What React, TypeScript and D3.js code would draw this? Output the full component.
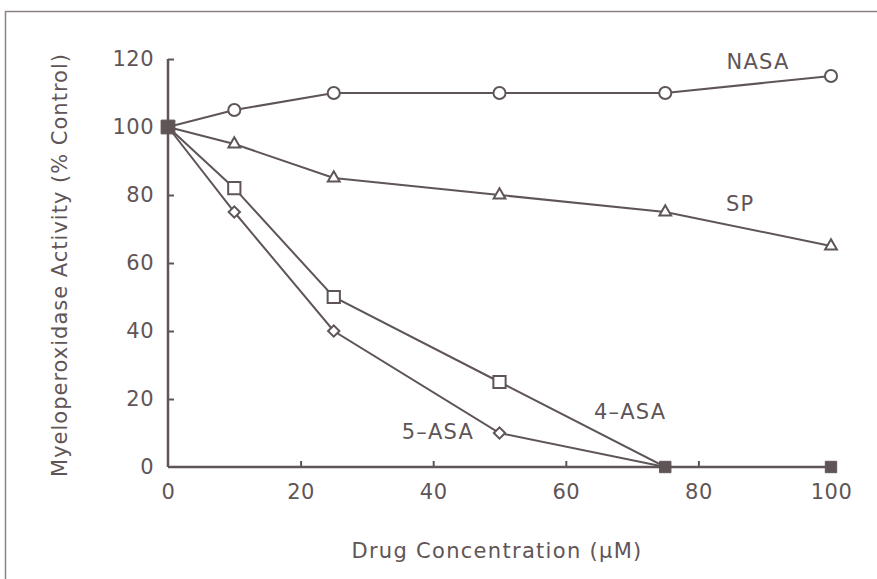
import React, { useEffect, useRef } from 'react';
import * as d3 from 'd3';

const concentrations = [0, 10, 25, 50, 75, 100];
const nasa = [100, 105, 110, 110, 110, 115];
const sp = [100, 95, 85, 80, 75, 65];
const asa4 = [100, 82, 50, 25, 0, 0];
const asa5 = [100, 75, 40, 10, 0, 0];
const xTicks = [0, 20, 40, 60, 80, 100];
const yTicks = [0, 20, 40, 60, 80, 100, 120];

const W = 877;
const H = 579;
const ink = '#5f5557';
const font = '"DejaVu Sans", sans-serif';

const Chart: React.FC = () => {
  const svgRef = useRef<SVGSVGElement | null>(null);

  useEffect(() => {
    if (!svgRef.current) return;
    const svg = d3.select(svgRef.current);
    svg.selectAll('*').remove();

    const x = d3.scaleLinear().domain([0, 100]).range([168, 831]);
    const y = d3.scaleLinear().domain([0, 120]).range([467, 59]);

    // outer frame
    svg.append('path')
      .attr('d', `M5.5,${H} L5.5,11.5 L${W},11.5`)
      .attr('fill', 'none')
      .attr('stroke', '#8a8285')
      .attr('stroke-width', 1.5);

    const g = svg.append('g');

    // axes
    const xAxis = d3.axisBottom(x).tickValues(xTicks).tickSize(-6).tickPadding(17).tickFormat(d3.format('d'));
    const yAxis = d3.axisLeft(y).tickValues(yTicks).tickSize(-6).tickPadding(14).tickFormat(d3.format('d'));

    const gx = g.append('g').attr('transform', `translate(0,${y(0)})`).call(xAxis);
    const gy = g.append('g').attr('transform', `translate(${x(0)},0)`).call(yAxis);
    [gx, gy].forEach((a) => {
      a.select('.domain').attr('stroke', ink).attr('stroke-width', 2.5);
      a.selectAll('.tick line').attr('stroke', ink).attr('stroke-width', 2);
      a.selectAll('.tick text')
        .attr('fill', ink)
        .attr('font-family', font)
        .attr('font-size', 21)
        .attr('letter-spacing', 0.5);
    });
    gy.select('.domain').attr('d', `M0,${y(120)}V${y(0)}`);
    gx.select('.domain').attr('d', `M${x(0)},0H${x(100)}`);
    gx.selectAll('.tick').filter((d: any) => d === 0 || d === 100).select('line').remove();
    gy.selectAll('.tick').filter((d: any) => d === 0).select('line').remove();

    const pts = (vals: number[]) => concentrations.map((c, i) => [c, vals[i]] as [number, number]);
    const line = d3.line<[number, number]>().x((d) => x(d[0])).y((d) => y(d[1]));

    const series = [
      { vals: nasa, sym: d3.symbolCircle, size: 115, rot: 0 },
      { vals: sp, sym: d3.symbolTriangle, size: 60, rot: 0 },
      { vals: asa4, sym: d3.symbolSquare, size: 150, rot: 0 },
      { vals: asa5, sym: d3.symbolSquare, size: 64, rot: 45 },
    ];

    series.forEach((s) => {
      g.append('path')
        .attr('d', line(pts(s.vals)))
        .attr('fill', 'none')
        .attr('stroke', ink)
        .attr('stroke-width', 2);
    });

    series.forEach((s) => {
      const sym = d3.symbol().type(s.sym).size(s.size);
      g.selectAll(null)
        .data(pts(s.vals).filter((d) => d[0] > 0 && d[1] > 0))
        .enter()
        .append('path')
        .attr('transform', (d) => `translate(${x(d[0])},${y(d[1])}) rotate(${s.rot})`)
        .attr('d', sym() as string)
        .attr('fill', 'white')
        .attr('stroke', ink)
        .attr('stroke-width', 2);
    });

    // overlapping points drawn filled
    const filled = pts(asa4).filter((d) => d[0] === 0 || d[1] === 0);
    g.selectAll(null)
      .data(filled)
      .enter()
      .append('path')
      .attr('transform', (d) => `translate(${x(d[0])},${y(d[1])})`)
      .attr('d', (d) => d3.symbol().type(d3.symbolSquare).size(d[0] === 0 ? 190 : 130)() as string)
      .attr('fill', ink)
      .attr('stroke', ink);

    // series labels
    const labels = [
      { t: 'NASA', c: 89, v: 119 },
      { t: 'SP', c: 86.3, v: 77.4 },
      { t: '4\u2013ASA', c: 69.7, v: 16.2 },
      { t: '5\u2013ASA', c: 40.7, v: 10.3 },
    ];
    g.selectAll(null)
      .data(labels)
      .enter()
      .append('text')
      .attr('x', (d) => x(d.c))
      .attr('y', (d) => y(d.v))
      .attr('text-anchor', 'middle')
      .attr('dominant-baseline', 'central')
      .attr('fill', ink)
      .attr('font-family', font)
      .attr('font-size', 21)
      .attr('letter-spacing', 1.2)
      .text((d) => d.t);

    // axis titles
    g.append('text')
      .attr('x', 497)
      .attr('y', 551)
      .attr('text-anchor', 'middle')
      .attr('dominant-baseline', 'central')
      .attr('fill', ink)
      .attr('font-family', font)
      .attr('font-size', 21)
      .attr('letter-spacing', 1.3)
      .text('Drug Concentration (\u03bcM)');

    g.append('text')
      .attr('transform', 'translate(60,265) rotate(-90)')
      .attr('text-anchor', 'middle')
      .attr('dominant-baseline', 'central')
      .attr('fill', ink)
      .attr('font-family', font)
      .attr('font-size', 21)
      .attr('letter-spacing', 1)
      .text('Myeloperoxidase Activity (% Control)');
  }, []);

  return <svg ref={svgRef} width={W} height={H} style={{ display: 'block', background: 'white' }} />;
};

export default function App() {
  return (
    <div style={{ position: 'absolute', left: 0, top: 0 }}>
      <Chart />
    </div>
  );
}
